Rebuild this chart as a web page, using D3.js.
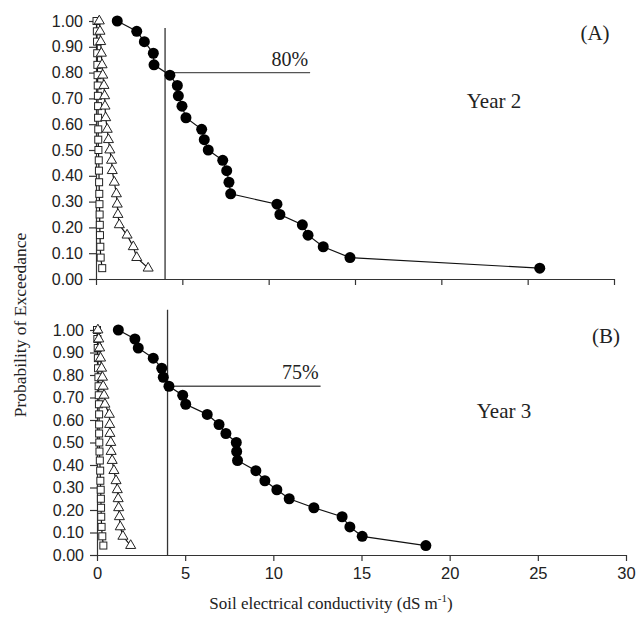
<!DOCTYPE html>
<html>
<head>
<meta charset="utf-8">
<script src="https://cdn.jsdelivr.net/npm/d3@7"></script>
<style>
  body { margin: 0; background: #fff; }
  svg { display: block; }
</style>
</head>
<body>
<div id="chart"></div>
<script>
"use strict";

// probability of exceedance (plotting positions)
var prob = [1.00, 0.96, 0.92, 0.875, 0.83, 0.79, 0.75, 0.71, 0.67, 0.625, 0.58, 0.54,
	0.50, 0.46, 0.42, 0.375, 0.33, 0.29, 0.25, 0.21, 0.17, 0.125, 0.083, 0.042];

// Year 2 (A)
var circlesA = [1.23, 2.36, 2.80, 3.32, 3.36, 4.28, 4.71, 4.77, 4.98, 5.21, 6.12, 6.27,
	6.50, 7.34, 7.57, 7.70, 7.80, 10.48, 10.65, 11.95, 12.28, 13.16, 14.71, 25.7];
var trianglesA = [0.19, 0.23, 0.27, 0.31, 0.35, 0.39, 0.46, 0.50, 0.52, 0.56, 0.65, 0.72,
	0.80, 0.90, 0.94, 1.06, 1.18, 1.23, 1.27, 1.35, 1.80, 2.16, 2.36, 3.02];
var squaresA = [0.03, 0.05, 0.06, 0.07, 0.08, 0.09, 0.10, 0.11, 0.12, 0.12, 0.13, 0.13,
	0.14, 0.16, 0.17, 0.18, 0.19, 0.20, 0.21, 0.22, 0.23, 0.25, 0.27, 0.36];

// Year 3 (B)
var circlesB = [1.21, 2.15, 2.34, 3.19, 3.67, 3.76, 4.08, 4.86, 5.03, 6.25, 6.92, 7.31,
	7.90, 7.92, 7.97, 9.01, 9.52, 10.20, 10.90, 12.30, 13.90, 14.34, 15.04, 18.65];
var trianglesB = [0.05, 0.10, 0.15, 0.20, 0.26, 0.31, 0.35, 0.40, 0.45, 0.70, 0.72, 0.73,
	0.78, 0.80, 0.86, 0.96, 1.08, 1.15, 1.20, 1.23, 1.27, 1.32, 1.47, 1.91];
var squaresB = [0.00, 0.02, 0.04, 0.05, 0.06, 0.08, 0.09, 0.10, 0.11, 0.12, 0.12, 0.12,
	0.13, 0.14, 0.16, 0.18, 0.19, 0.21, 0.22, 0.23, 0.24, 0.26, 0.30, 0.36];

var yTicks = [0, 0.1, 0.2, 0.3, 0.4, 0.5, 0.6, 0.7, 0.8, 0.9, 1.0];
var xTicks = [0, 5, 10, 15, 20, 25, 30];

// threshold annotations: EC threshold and the exceedance read at it
var thresholdEC = 4;
var exceedA = 0.80, exceedB = 0.75;
var labelA = "80%", labelB = "75%";

var width = 636, height = 621;
var sans = "'Liberation Sans', Arial, sans-serif";
var serif = "'Liberation Serif', 'Times New Roman', serif";

var svg = d3.select("#chart")
	.append("svg")
		.attr("width", width)
		.attr("height", height);

var panels = [
	{ tag: "(A)", year: "Year 2", circles: circlesA, triangles: trianglesA, squares: squaresA,
	  exceed: exceedA, label: labelA, lineTop: 0.973, lineEnd: 12.4, xLabels: false,
	  left: 96, right: 614, top: 21, bottom: 279,
	  tagPos: [595, 40], yearPos: [494, 108] },
	{ tag: "(B)", year: "Year 3", circles: circlesB, triangles: trianglesB, squares: squaresB,
	  exceed: exceedB, label: labelB, lineTop: 1.09, lineEnd: 12.68, xLabels: true,
	  left: 97, right: 626, top: 330, bottom: 555,
	  tagPos: [606, 343], yearPos: [504, 418] }
];

panels.forEach(function(p) {
	var x = d3.scaleLinear().domain([0, 30]).range([p.left, p.right]);
	var y = d3.scaleLinear().domain([0, 1]).range([p.bottom, p.top]);

	var g = svg.append("g");

	//
	// Axes
	//
	var yAxis = d3.axisLeft(y)
		.tickValues(yTicks)
		.tickFormat(d3.format(".2f"))
		.tickSize(7)
		.tickSizeOuter(0)
		.tickPadding(6);

	var xAxis = d3.axisBottom(x)
		.tickValues(xTicks)
		.tickSize(6)
		.tickSizeOuter(0)
		.tickPadding(6)
		.tickFormat(p.xLabels ? d3.format("d") : function() { return ""; });

	var ya = g.append("g")
		.attr("transform", "translate(" + p.left + ",0)")
		.call(yAxis);
	ya.selectAll("text")
		.style("font-family", sans)
		.style("font-size", "16px")
		.attr("fill", "#222");

	var xa = g.append("g")
		.attr("transform", "translate(0," + p.bottom + ")")
		.call(xAxis);
	xa.selectAll("text")
		.style("font-family", sans)
		.style("font-size", "16.5px")
		.attr("fill", "#222");

	g.selectAll(".domain, .tick line").attr("stroke", "#333").attr("stroke-width", 1.2);

	//
	// Threshold lines
	//
	g.append("line")
		.attr("x1", x(thresholdEC)).attr("x2", x(thresholdEC))
		.attr("y1", y(p.lineTop)).attr("y2", y(0))
		.attr("stroke", "#333").attr("stroke-width", 1.3);

	g.append("line")
		.attr("x1", x(thresholdEC)).attr("x2", x(p.lineEnd))
		.attr("y1", y(p.exceed)).attr("y2", y(p.exceed))
		.attr("stroke", "#555").attr("stroke-width", 1.3);

	g.append("text")
		.attr("x", x(p.lineEnd) - 2)
		.attr("y", y(p.exceed) - 7)
		.attr("text-anchor", "end")
		.style("font-family", serif)
		.style("font-size", "20px")
		.attr("fill", "#222")
		.text(p.label);

	//
	// Series
	//
	var line = d3.line()
		.x(function(d) { return x(d[0]); })
		.y(function(d) { return y(d[1]); });

	function pairs(vals) {
		return vals.map(function(v, i) { return [v, prob[i]]; });
	}

	var sq = pairs(p.squares), tri = pairs(p.triangles), cir = pairs(p.circles);

	[sq, tri, cir].forEach(function(s) {
		g.append("path")
			.datum(s)
			.attr("d", line)
			.attr("fill", "none")
			.attr("stroke", "#111")
			.attr("stroke-width", 1.2);
	});

	g.selectAll(".sq")
		.data(sq)
	  .enter().append("rect")
		.attr("class", "sq")
		.attr("x", function(d) { return x(d[0]) - 3.5; })
		.attr("y", function(d) { return y(d[1]) - 3.5; })
		.attr("width", 7)
		.attr("height", 7)
		.attr("fill", "#fff")
		.attr("stroke", "#222")
		.attr("stroke-width", 1);

	var triSym = d3.symbol().type(d3.symbolTriangle).size(44);
	g.selectAll(".tri")
		.data(tri)
	  .enter().append("path")
		.attr("class", "tri")
		.attr("d", triSym)
		.attr("transform", function(d) { return "translate(" + x(d[0]) + "," + y(d[1]) + ")"; })
		.attr("fill", "#fff")
		.attr("stroke", "#222")
		.attr("stroke-width", 1);

	g.selectAll(".cir")
		.data(cir)
	  .enter().append("circle")
		.attr("class", "cir")
		.attr("cx", function(d) { return x(d[0]); })
		.attr("cy", function(d) { return y(d[1]); })
		.attr("r", 5.5)
		.attr("fill", "#000");

	//
	// Panel labels
	//
	g.append("text")
		.attr("x", p.tagPos[0]).attr("y", p.tagPos[1])
		.attr("text-anchor", "middle")
		.style("font-family", serif).style("font-size", "21px")
		.attr("fill", "#222")
		.text(p.tag);

	g.append("text")
		.attr("x", p.yearPos[0]).attr("y", p.yearPos[1])
		.attr("text-anchor", "middle")
		.style("font-family", serif).style("font-size", "21px")
		.attr("fill", "#222")
		.text(p.year);
});

//
// Axis titles
//
var xt = svg.append("text")
	.attr("x", 331)
	.attr("y", 609)
	.attr("text-anchor", "middle")
	.style("font-family", serif)
	.style("font-size", "17px")
	.attr("fill", "#222");
xt.append("tspan").text("Soil electrical conductivity (dS m");
xt.append("tspan").attr("dy", -7).style("font-size", "11px").text("-1");
xt.append("tspan").attr("dy", 7).text(")");

svg.append("text")
	.attr("transform", "translate(26,325) rotate(-90)")
	.attr("text-anchor", "middle")
	.style("font-family", serif)
	.style("font-size", "17.5px")
	.attr("fill", "#222")
	.text("Probability of Exceedance");
</script>
</body>
</html>
